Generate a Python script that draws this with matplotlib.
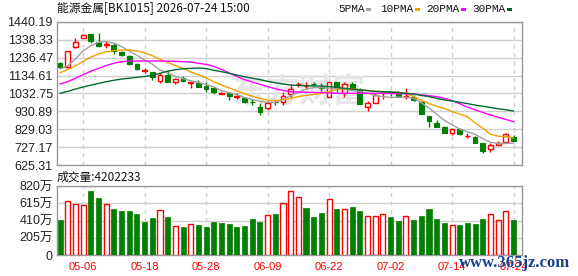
import numpy as np
import matplotlib.pyplot as plt
from matplotlib.patches import Rectangle

# 1. Data
opens = [1205, 1186, 1296, 1351, 1372, 1328, 1309, 1309, 1271, 1246,
         1199, 1161, 1157, 1104, 1140, 1100, 1119, 1093, 1094, 1077,
         1062, 1032, 1034, 1014, 1005, 984, 958, 948, 984, 983,
         1028, 1086, 1076, 1088, 1067, 1015, 1097, 1034, 1085, 1053,
         958, 980, 1033, 1041, 1041, 1014, 1015, 983, 906, 863,
         840, 810, 829, 790, 783, 752, 715, 737, 759, 783]
highs = [1212, 1275, 1347, 1372, 1374, 1379, 1330, 1318, 1276, 1250,
         1208, 1180, 1157, 1150, 1160, 1123, 1130, 1106, 1110, 1100,
         1065, 1040, 1034, 1034, 1012, 1000, 977, 990, 998, 1043,
         1087, 1100, 1100, 1098, 1090, 1100, 1100, 1100, 1100, 1062,
         990, 1033, 1048, 1045, 1045, 1062, 1022, 990, 906, 880,
         845, 829, 835, 810, 790, 752, 748, 760, 808, 795]
lows = [1180, 1180, 1294, 1349, 1319, 1300, 1290, 1256, 1246, 1195,
        1166, 1151, 1111, 1093, 1097, 1085, 1100, 1062, 1070, 1043,
        1032, 1030, 996, 1000, 979, 970, 910, 938, 970, 970,
        1015, 1072, 1058, 1075, 1047, 1010, 1040, 1015, 1060, 973,
        935, 977, 1000, 1020, 1012, 1000, 990, 916, 844, 844,
        808, 796, 796, 780, 752, 696, 700, 737, 750, 760]
closes = [1186, 1273, 1324, 1366, 1332, 1303, 1312, 1277, 1252, 1199,
          1171, 1164, 1128, 1140, 1097, 1114, 1104, 1096, 1072, 1057,
          1040, 1035, 1019, 1016, 983, 983, 929, 980, 982, 1020,
          1058, 1088, 1078, 1087, 1066, 1097, 1069, 1089, 1058, 973,
          980, 1022, 1035, 1040, 1015, 1016, 996, 916, 878, 844,
          810, 829, 802, 792, 752, 707, 739, 749, 801, 764]

ma5 = [1172, 1190, 1230, 1275, 1305, 1325, 1328, 1320, 1300, 1275,
       1250, 1224, 1200, 1167, 1150, 1130, 1118, 1105, 1095, 1085,
       1070, 1050, 1038, 1025, 1010, 998, 988, 982, 982, 1000,
       1020, 1040, 1058, 1066, 1066, 1062, 1060, 1056, 1050, 1044,
       1035, 1022, 1015, 1010, 1012, 1012, 1005, 980, 950, 915,
       880, 855, 830, 815, 800, 775, 755, 748, 748, 750]
ma10 = [1151, 1170, 1190, 1215, 1240, 1258, 1270, 1277, 1280, 1281,
        1275, 1265, 1248, 1228, 1210, 1192, 1176, 1155, 1140, 1122,
        1100, 1081, 1065, 1048, 1032, 1018, 1005, 995, 993, 996,
        1005, 1015, 1022, 1028, 1034, 1045, 1055, 1062, 1060, 1055,
        1050, 1045, 1043, 1042, 1040, 1034, 1015, 995, 975, 960,
        948, 930, 915, 901, 865, 835, 800, 790, 787, 778]
ma20 = [1087, 1100, 1120, 1140, 1160, 1176, 1192, 1205, 1214, 1218,
        1218, 1218, 1218, 1218, 1217, 1216, 1214, 1212, 1205, 1198,
        1188, 1170, 1150, 1130, 1112, 1098, 1085, 1072, 1060, 1050,
        1043, 1041, 1040, 1039, 1038, 1036, 1034, 1034, 1034, 1034,
        1034, 1034, 1034, 1033, 1032, 1031, 1030, 1025, 1020, 1015,
        1005, 992, 975, 955, 940, 925, 910, 897, 885, 872]
ma30 = [1034, 1045, 1058, 1070, 1080, 1090, 1100, 1108, 1115, 1120,
        1125, 1130, 1135, 1148, 1160, 1168, 1174, 1176, 1178, 1175,
        1165, 1157, 1148, 1138, 1128, 1120, 1112, 1102, 1094, 1087,
        1081, 1079, 1077, 1076, 1075, 1072, 1068, 1062, 1058, 1054,
        1049, 1045, 1043, 1041, 1038, 1034, 1030, 1022, 1015, 1005,
        996, 990, 983, 975, 967, 960, 953, 946, 940, 933]

# volume in 万
volumes = [418, 640, 612, 590, 758, 677, 612, 543, 520, 520,
           485, 390, 437, 530, 449, 340, 330, 364, 354, 332,
           390, 380, 367, 330, 342, 425, 390, 472, 486, 613,
           758, 685, 560, 452, 500, 660, 547, 545, 572, 522,
           462, 462, 486, 452, 404, 462, 416, 464, 547, 428,
           380, 355, 357, 380, 368, 428, 486, 415, 522, 420]
vol_up = [0, 1, 1, 1, 0, 0, 1, 0, 0, 0,
          0, 0, 0, 1, 0, 1, 0, 1, 0, 0,
          0, 0, 0, 0, 0, 0, 0, 1, 0, 1,
          1, 1, 0, 0, 0, 1, 0, 1, 0, 0,
          1, 1, 1, 0, 0, 1, 0, 0, 0, 0,
          0, 1, 0, 0, 0, 0, 1, 1, 1, 0]

date_pos = [3, 11, 19, 27, 35, 43, 51, 59]
date_labels = ['05-06', '05-18', '05-28', '06-09', '06-22', '07-02', '07-14', '07-24']

price_ticks = [625.31, 727.17, 829.03, 930.89, 1032.75, 1134.61, 1236.47, 1338.33, 1440.19]
vol_ticks = [0, 205, 410, 615, 820]
vol_tick_labels = ['0', '205万', '410万', '615万', '820万']

ma_names = ['5PMA', '10PMA', '20PMA', '30PMA']
ma_colors = ['#a0a0a0', '#f0a000', '#ff00ff', '#006a30']

# 2. Styling
RED = '#ff0000'
GREEN = '#007f00'
GRID = '#cfcfcf'
FRAME = '#999999'
plt.rcParams['font.family'] = ['Liberation Sans', 'Noto Sans CJK SC']

W, H = 578, 276
fig = plt.figure(figsize=(W / 100, H / 100), dpi=100)

def box(l, t, r, b):
    return [l / W, 1 - b / H, (r - l) / W, (b - t) / H]

ax = fig.add_axes(box(57, 22, 522, 165))
axv = fig.add_axes(box(57, 186, 522, 255))

x = np.arange(len(closes))
o = np.array(opens, float)
c = np.array(closes, float)
hi = np.array(highs, float)
lo = np.array(lows, float)
up = c >= o
bw = 0.62

# 3. Candles
body_lo = np.minimum(o, c)
body_hi = np.maximum(o, c)
body_h = np.maximum(body_hi - body_lo, 1.5)
ax.vlines(x, lo, body_lo, color=np.where(up, RED, GREEN), lw=1, zorder=3)
ax.vlines(x, body_hi, hi, color=np.where(up, RED, GREEN), lw=1, zorder=3)
ax.bar(x[up], body_h[up], bottom=body_lo[up], width=bw, facecolor='white',
       edgecolor=RED, lw=1, zorder=4)
ax.bar(x[~up], body_h[~up], bottom=body_lo[~up], width=bw, facecolor=GREEN,
       edgecolor=GREEN, lw=0.8, zorder=4)

for vals, col in zip([ma5, ma10, ma20, ma30], ma_colors):
    ax.plot(x, vals, color=col, lw=1, zorder=5)

ax.set_xlim(-0.4, 60.1)
ax.set_ylim(price_ticks[0], price_ticks[-1])
ax.set_yticks(price_ticks)
ax.set_yticklabels([f'{t:.2f}' for t in price_ticks])
ax.set_xticks([])

# 4. Volume
vu = np.array(vol_up, bool)
vv = np.array(volumes, float)
axv.bar(x[vu], vv[vu], width=0.66, facecolor='white', edgecolor=RED, lw=1, zorder=3)
axv.bar(x[~vu], vv[~vu], width=0.66, facecolor=GREEN, edgecolor=GREEN, lw=0.5, zorder=3)
axv.set_xlim(-0.4, 60.1)
axv.set_ylim(0, 820)
axv.set_yticks(vol_ticks)
axv.set_yticklabels(vol_tick_labels)
axv.set_xticks(date_pos)
axv.set_xticklabels(date_labels, color=RED, fontsize=8)

for a in (ax, axv):
    a.tick_params(length=0, labelsize=9, labelcolor='#222222', pad=3)
    a.yaxis.grid(True, color=GRID, lw=1, ls='-')
    for p in date_pos:
        a.axvline(p, color=GRID, lw=1, ls=(0, (3, 3)), zorder=1)
    a.set_axisbelow(True)
    for s in a.spines.values():
        s.set_color(FRAME)
        s.set_linewidth(1)
axv.tick_params(axis='x', labelcolor=RED, labelsize=8, pad=5)

# 5. Texts
fig.text(57 / W, 1 - 9 / H, '能源金属[BK1015] 2026-07-24 15:00', fontsize=8.5,
         family=['Noto Sans CJK SC'], va='center', ha='left', color='#111111')
fig.text(57 / W, 1 - 177 / H, '成交量:4202233', fontsize=8.5,
         family=['Noto Sans CJK SC'], va='center', ha='left', color='#111111')

leg_x = [338, 380, 426, 472]
for name, col, lx in zip(ma_names, ma_colors, leg_x):
    t = fig.text(lx / W, 1 - 9 / H, name, fontsize=8, family=['Liberation Mono'],
                 va='center', ha='left', color='#111111')
    fig.patches.append(Rectangle(((lx + 28 + 2 * (len(name) - 4) * 3.5) / W, 1 - 11 / H),
                                 5 / W, 3 / H, transform=fig.transFigure,
                                 facecolor=col, edgecolor='none'))

# watermarks
ax.text(0.52, 0.5, '东方财富', transform=ax.transAxes, fontsize=24, color='#e6e6e6',
        family=['Noto Sans CJK SC'], style='italic', weight='bold',
        ha='center', va='center', zorder=2)
fig.text(570 / W, 1 - 263 / H, 'www.365jz.com', fontsize=12, color='#1c3f8c',
         family=['Liberation Serif'], ha='right', va='center', weight='bold')

fig.savefig('out.png', dpi=100)
